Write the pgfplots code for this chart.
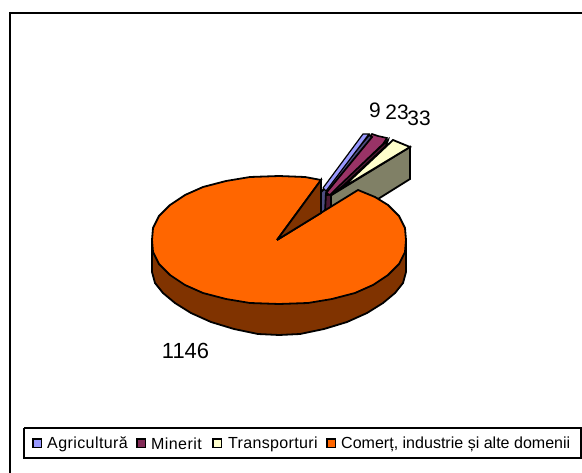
\documentclass[border=0pt]{standalone}
\usepackage{pgfplots}
\pgfplotsset{compat=1.18}
\usepackage{fontspec}
\setmainfont{Liberation Sans}
\definecolor{org}{HTML}{FF6600}
\definecolor{orgd}{HTML}{803300}
\definecolor{peri}{HTML}{9999FF}
\definecolor{perid}{HTML}{4D4D80}
\definecolor{plum}{HTML}{993366}
\definecolor{plumd}{HTML}{4D1933}
\definecolor{crem}{HTML}{FFFFCC}
\definecolor{cremd}{HTML}{808066}
\begin{document}
\begin{tikzpicture}
\begin{axis}[at={(0,0)},anchor=south west,scale only axis,width=582bp,height=473bp,
 xmin=0,xmax=582,ymin=0,ymax=473,y dir=reverse,axis lines=none,clip=false]
\path[use as bounding box] (axis cs:0,0) rectangle (axis cs:582,473);
% frame
\addplot[draw=black,line width=2bp] coordinates {(10,13)(582,13)};
\addplot[draw=black,line width=2bp] coordinates {(10,12)(10,473)};
% transporturi
\addplot[fill=cremd,draw=black,line width=1.8bp] coordinates {(330,196)(410,147)(410,179)(378,199)(330,228)(330,196)};
\addplot[fill=crem,draw=black,line width=1.8bp] coordinates {(342,188)(393,140)(410,147)(342,188)};
% minerit
\addplot[fill=plumd,draw=black,line width=1.8bp] coordinates {(328,195)(388,140)(386,146)(343,186)(331,195)(331,212)(324,218)(324,195)(328,195)};
\addplot[fill=plum,draw=black,line width=1.6bp] coordinates {(326,193)(372,134)(378,136)(387,138)(383,144)(338,187)(330,195)(326,193)};
% agricultura
\addplot[fill=perid,draw=black,line width=1.8bp] coordinates {(323,190)(369,135)(372,137)(326,193)(325,212)(321,214)(321,192)(323,190)};
\addplot[fill=peri,draw=black,line width=1.2bp] coordinates {(323,188)(363,134)(369,134)(326,191)(323,188)};
% orange side
\addplot[fill=orgd,draw=black,line width=1.8bp] coordinates {
(152,240)(152,272)(155,283)(163,293)(175,303)(191,313)(211,322)(234,329)(258,334)(279,335)(300,334)(324,329)(347,322)(367,313)(383,303)(395,293)(403,283)(406,272)(406,240)(152,240)};
% orange top
\addplot[fill=org,draw=black,line width=1.8bp] coordinates {
(277,240)(321,180)(305,177)(279,176)(250,177)(226,181)(203,187)(185,195)(170,205)(159,216)(153,228)(152,240)(153,252)(159,264)(170,275)(185,285)(203,293)(226,299)(250,303)(279,304)(308,303)(332,299)(355,293)(373,285)(388,275)(399,264)(405,252)(406,240)(405,228)(399,216)(388,205)(375,197)(358,190)(277,240)};
% inner wall
\addplot[fill=orgd,draw=black,line width=1.8bp] coordinates {(277,240)(321,180)(321,213)(277,240)};
\node[font=\fontsize{21pt}{24pt}\selectfont,anchor=center] at (axis cs:375,110) {9};
\node[font=\fontsize{21pt}{24pt}\selectfont,anchor=center] at (axis cs:397,112) {23};
\node[font=\fontsize{21pt}{24pt}\selectfont,anchor=center] at (axis cs:419,118) {33};
\node[font=\fontsize{22pt}{24pt}\selectfont,anchor=center] at (axis cs:185.5,351) {1146};
% legend
\addplot[fill=white,draw=black,line width=1.6bp] coordinates {(24,428)(581,428)(581,458)(24,458)(24,428)};
\addplot[only marks,mark=square*,mark size=4.2bp,mark options={fill=peri,draw=black,line width=1.4bp}] coordinates {(37,443)};
\addplot[only marks,mark=square*,mark size=4.2bp,mark options={fill=plum!85!black,draw=black,line width=1.4bp}] coordinates {(141,443)};
\addplot[only marks,mark=square*,mark size=4.2bp,mark options={fill=crem,draw=black,line width=1.4bp}] coordinates {(217,443)};
\addplot[only marks,mark=square*,mark size=4.2bp,mark options={fill=org,draw=black,line width=1.4bp}] coordinates {(331,443)};
\node[font=\fontsize{16.1pt}{18pt}\selectfont\addfontfeature{LetterSpace=2.5},anchor=west,inner xsep=0pt] at (axis cs:47,444) {Agricultură};
\node[font=\fontsize{16.1pt}{18pt}\selectfont\addfontfeature{LetterSpace=2.5},anchor=west,inner xsep=0pt] at (axis cs:151,444) {Minerit};
\node[font=\fontsize{16.1pt}{18pt}\selectfont\addfontfeature{LetterSpace=2},anchor=west,inner xsep=0pt] at (axis cs:228,444) {Transporturi};
\node[font=\fontsize{16.1pt}{18pt}\selectfont,anchor=west,inner xsep=0pt] at (axis cs:341,444) {Comerț, industrie și alte domenii};
\end{axis}
\end{tikzpicture}
\end{document}
